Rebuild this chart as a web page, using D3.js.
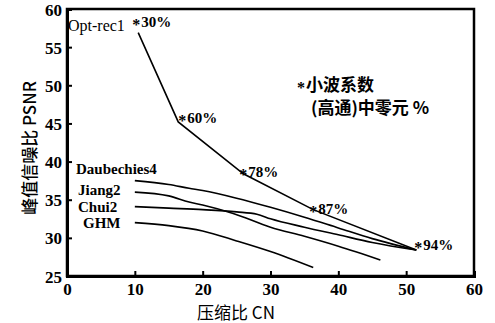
<!DOCTYPE html>
<html><head><meta charset="utf-8">
<script src="https://cdn.jsdelivr.net/npm/d3@7"></script>
<style>
body{margin:0;background:#fff;}
text{fill:#000;}
</style></head>
<body>
<svg id="c" width="495" height="323"></svg>
<script>
// ---- data ----
const xTicks = [0,10,20,30,40,50,60];
const yTicks = [25,30,35,40,45,50,55,60];
const optRec1 = [[10.5,56.9],[16.4,45.2],[26.0,38.4],[36.3,33.7],[51.5,28.4]];
const optLabels = ["30%","60%","78%","87%","94%"];
const daubechies4 = [[10,37.5],[15,37.0],[18,36.5],[20,36.2],[25,35.2],[30,34.0],[35,32.7],[40,31.3],[45,29.9],[51.5,28.4]];
const jiang2 = [[10,36.0],[15,35.5],[18,34.7],[20,34.3],[24.5,33.2],[30,31.4],[35,30.2],[40,28.9],[46.2,27.1]];
const chui2 = [[10,34.1],[15,33.9],[20,33.7],[25,33.4],[28,33.1],[30,32.5],[35,31.4],[40,30.4],[45,29.4],[51.5,28.4]];
const ghm = [[10,32.0],[15,31.6],[20,30.9],[25,29.6],[30,28.2],[36.3,26.1]];
const seriesNames = ["Opt-rec1","Daubechies4","Jiang2","Chui2","GHM"];

const svg = d3.select("#c");
const L=67,R=474,T=9,B=276;
const x = d3.scaleLinear().domain([0,60]).range([L,R]);
const y = d3.scaleLinear().domain([25,60]).range([B,T]);
const serif = "'Liberation Serif','Times New Roman',serif";
const cjk = "'Noto Sans CJK SC','Liberation Serif',serif";

// frame
svg.append("rect").attr("x",L).attr("y",T).attr("width",R-L).attr("height",B-T)
  .attr("fill","none").attr("stroke","#000").attr("stroke-width",2.5);

// axes
const xa = svg.append("g").attr("transform",`translate(0,${B})`)
  .call(d3.axisBottom(x).tickValues(xTicks).tickSize(-5).tickPadding(7));
const ya = svg.append("g").attr("transform",`translate(${L},0)`)
  .call(d3.axisLeft(y).tickValues(yTicks).tickSize(-5).tickPadding(5));
[xa,ya].forEach(g=>{
  g.attr("font-family",null).attr("font-size",null);
  g.select(".domain").attr("stroke","#000").attr("stroke-width",3);
  g.selectAll(".tick line").attr("stroke","#000").attr("stroke-width",2);
  g.selectAll(".tick text").style("font-family",serif).style("font-weight","bold")
    .style("font-size","17px").attr("fill","#000");
});
ya.selectAll(".tick text").attr("dy","0.36em");

// lines
const lin = d3.line().x(d=>x(d[0])).y(d=>y(d[1]));
const smooth = d3.line().x(d=>x(d[0])).y(d=>y(d[1])).curve(d3.curveMonotoneX);
svg.append("path").datum(optRec1).attr("d",lin).attr("fill","none").attr("stroke","#000").attr("stroke-width",1.6);
[daubechies4,jiang2,chui2,ghm].forEach(s=>{
  svg.append("path").datum(s).attr("d",smooth).attr("fill","none").attr("stroke","#000").attr("stroke-width",1.6);
});

// percent annotations
const starOff = [[-2,-11],[4,-4],[0,-2],[0,-1],[2,-5]];
optRec1.forEach((d,i)=>{
  const sx = x(d[0])+starOff[i][0], sy = y(d[1])+starOff[i][1];
  svg.append("text").attr("x",sx).attr("y",sy+8).attr("text-anchor","middle")
    .style("font-family",serif).style("font-weight","bold").style("font-size","16px").text("*");
  svg.append("text").attr("x",sx+5).attr("y",sy+5)
    .style("font-family",serif).style("font-weight","bold").style("font-size","15px").text(optLabels[i]);
});

// series names
const namePos = [[68,31,"normal",16],[76,174,"bold",15],[78,195,"bold",15],[78,212,"bold",15],[83,228,"bold",15]];
seriesNames.forEach((n,i)=>{
  svg.append("text").attr("x",namePos[i][0]).attr("y",namePos[i][1])
    .style("font-family",serif).style("font-weight",namePos[i][2]).style("font-size",namePos[i][3]+"px").text(n);
});

// legend note
svg.append("text").attr("x",301).attr("y",93).attr("text-anchor","middle")
  .style("font-family",serif).style("font-weight","bold").style("font-size","16px").text("*");
svg.append("text").attr("x",306).attr("y",91).style("font-family",cjk).style("font-weight","bold")
  .style("font-size","17px").text("小波系数");
svg.append("text").attr("x",311).attr("y",114).style("font-family",cjk).style("font-weight","bold")
  .style("font-size","17px").text("(高通)中零元 %");

// axis titles
svg.append("text").attr("transform",`translate(36,148) rotate(-90)`).attr("text-anchor","middle")
  .style("font-family",cjk).style("font-size","17px").style("font-weight","500").text("峰值信噪比 PSNR");
svg.append("text").attr("x",236).attr("y",319).attr("text-anchor","middle")
  .style("font-family",cjk).style("font-size","17px").text("压缩比 CN");
</script>
</body></html>
